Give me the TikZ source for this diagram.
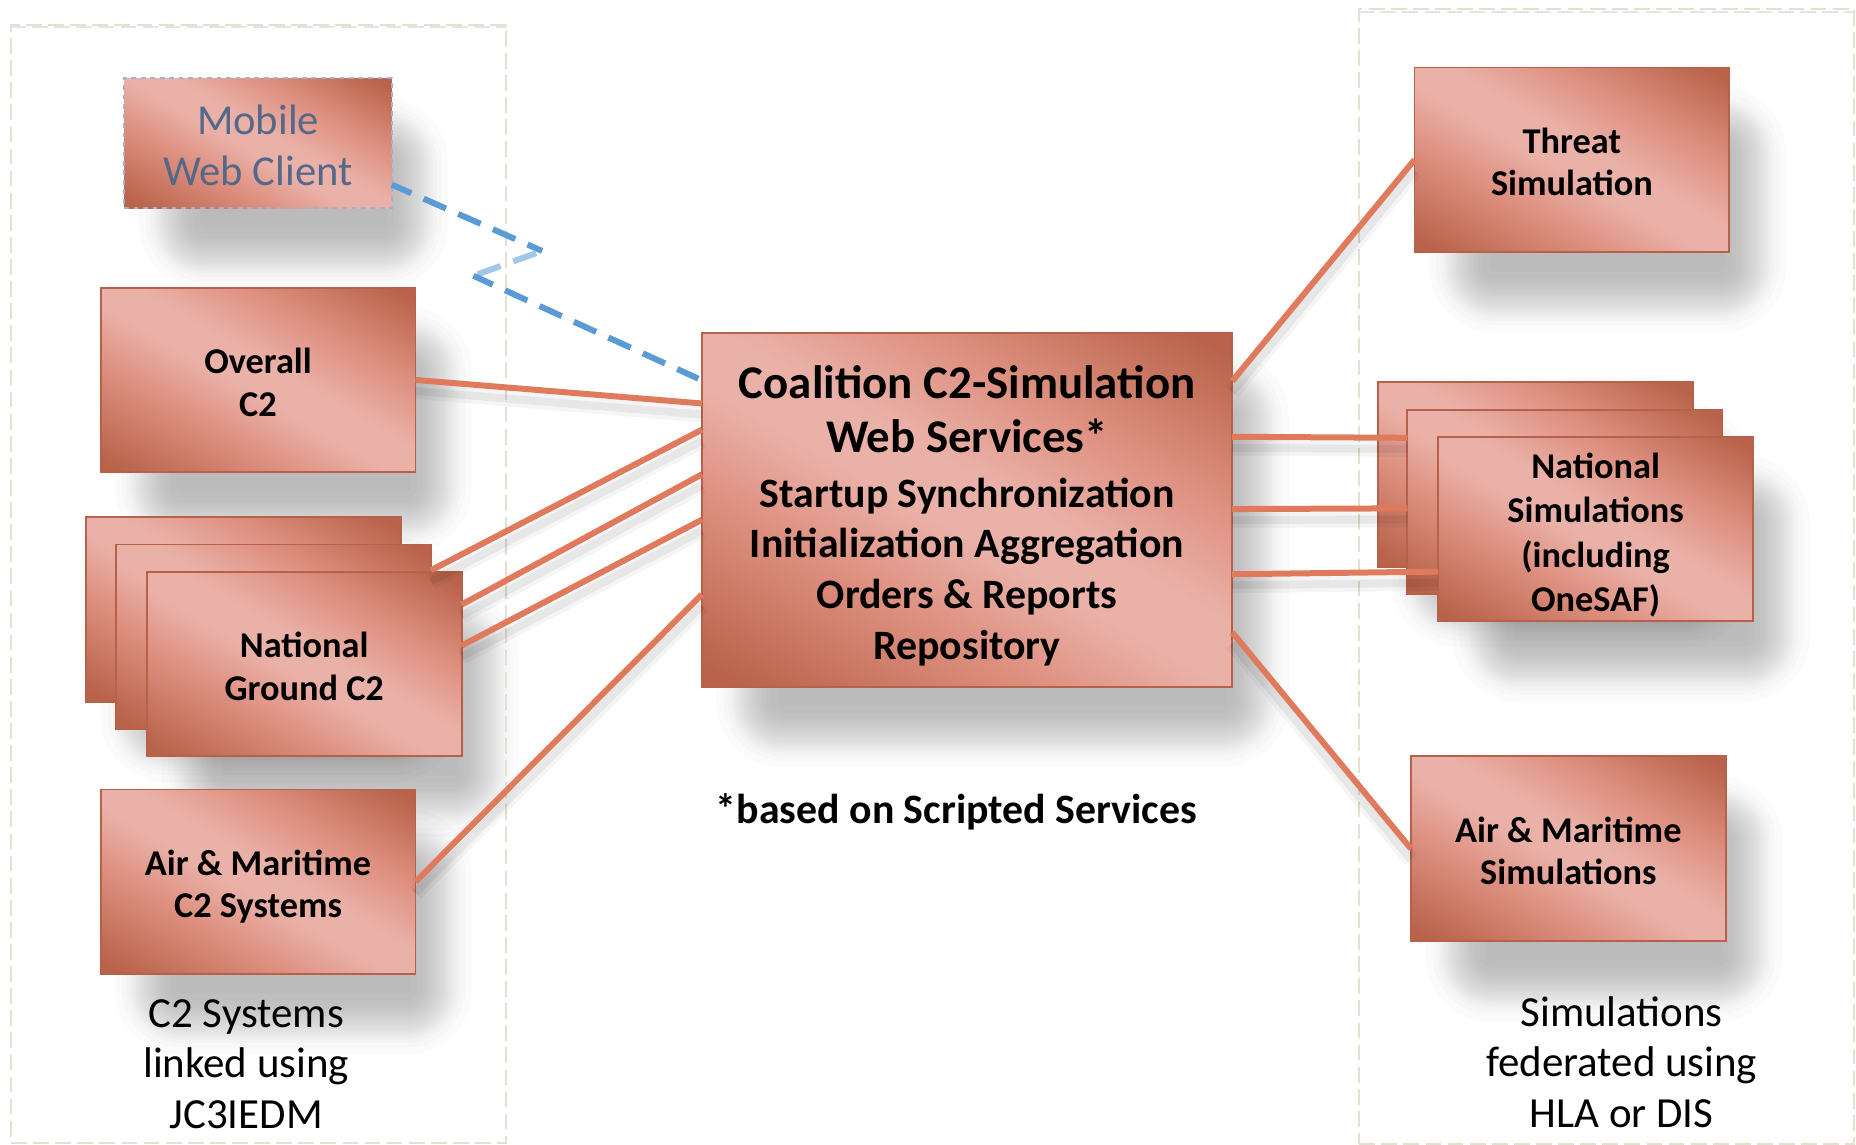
\documentclass[tikz,border=0pt]{standalone}
\usepackage{fontspec}
\setmainfont{Carlito}
\usetikzlibrary{calc,backgrounds}
\definecolor{edgebrown}{HTML}{B8614A}
\definecolor{gradDark}{HTML}{B8634A}
\definecolor{gradMid}{HTML}{DE9080}
\definecolor{gradLight}{HTML}{EAB1A8}
\definecolor{connOrange}{HTML}{DF7A5C}
\definecolor{dashBlue}{HTML}{5B9BD5}
\definecolor{dashPale}{HTML}{A3C6EC}
\definecolor{regionLine}{HTML}{E2E0CE}
\definecolor{regionShade}{HTML}{E4E4E4}
\definecolor{mobileEdge}{HTML}{A9AFC8}
\definecolor{mobileText}{HTML}{56688A}
\pgfdeclarehorizontalshading{boxgrad}{100bp}{
  color(0bp)=(gradDark); color(18bp)=(gradDark); color(36bp)=(gradMid);
  color(47bp)=(gradLight); color(54bp)=(gradLight); color(66bp)=(gradMid); color(82bp)=(gradDark); color(100bp)=(gradDark)}
\tikzset{
  anybox/.style={anchor=north west,inner sep=0pt,outer sep=0pt,shading=boxgrad,shading angle=60,
    align=center,text=black,font=\fontsize{23}{27}\selectfont\bfseries},
  stdbox/.style={anybox,draw=edgebrown,line width=1.2pt,minimum width=199.5pt,minimum height=117pt},
  mobilebox/.style={anybox,draw=mobileEdge,dashed,line width=1.1pt,minimum width=169.5pt,minimum height=82.5pt,
    text=mobileText,font=\fontsize{27}{32}\selectfont},
  centerbox/.style={anybox,draw=edgebrown,line width=1.2pt,minimum width=336pt,minimum height=224.5pt,
    font=\fontsize{26.5}{32.25}\selectfont\bfseries},
  conn/.style={draw=connOrange,line width=3.8pt,
    preaction={draw=black,opacity=.04,line width=10pt,transform canvas={yshift=-7pt}},
    preaction={draw=black,opacity=.06,line width=5pt,transform canvas={yshift=-7pt}}},
  dashlink/.style={draw=dashBlue,line width=3.8pt,dash pattern=on 15.5pt off 8.5pt,dash phase=2pt},
  dashpale/.style={draw=dashPale,line width=3.8pt,dash pattern=on 15.5pt off 8.5pt,dash phase=20pt},
  region/.style={anchor=north west,inner sep=0pt,draw=regionLine,line width=1.3pt,dash pattern=on 10pt off 4pt},
  regiontop/.style={draw=regionShade,line width=1.1pt,dash pattern=on 10pt off 4pt},
  caption/.style={align=center,text=black,font=\fontsize{27.2}{32}\selectfont},
  note/.style={text=black,font=\fontsize{26.5}{32}\selectfont\bfseries}
}
\newcommand{\softshadow}[1]{%
  \begin{pgfonlayer}{background}
  \foreach \r in {-26,-20,-16,-13,-11,-9,-7,-5,-3,-1,1,3,5,7,9,11,13,16,20,26}{
    \pgfmathsetmacro{\cr}{(\r+30)*0.75}
    \fill[black,opacity=.0155,rounded corners=\cr pt]
      ($(#1.north west)+(38-\r,42-\r)$) rectangle ($(#1.south east)+(22+\r,42+\r)$);
  }
  \end{pgfonlayer}}
\begin{document}
\begin{tikzpicture}[x=0.75pt,y=-0.75pt]
\useasboundingbox (0,0) rectangle (1568,966.5);
% regions
\node[region,minimum width=313.5pt,minimum height=708.5pt] (regL) at (8.5,20) {};
\node[region,minimum width=313.5pt,minimum height=719pt] (regR) at (1147.5,7) {};
\draw[regiontop] ($(regL.north west)+(0,3)$) -- ($(regL.north east)+(0,3)$);
\draw[regiontop] ($(regR.north west)+(0,3)$) -- ($(regR.north east)+(0,3)$);
% boxes
\node[mobilebox] (mobile) at (105,66) {\rule{0pt}{21.5pt}Mobile\\Web Client};
\node[stdbox] (overall) at (85,243) {\rule{0pt}{19pt}Overall\\C2};
\node[stdbox] (ngA) at (73,437) {};
\node[stdbox] (ngB) at (98,460) {};
\node[stdbox] (ngC) at (124,483) {\rule{0pt}{19pt}National\\Ground C2};
\node[stdbox] (airc) at (85,667) {\rule{0pt}{22pt}Air \& Maritime\\C2 Systems};
\node[centerbox] (hub) at (593,281) {\rule{0pt}{28.5pt}\fontsize{29.7}{35}\selectfont Coalition C2-Simulation\\[2.2pt]
  \fontsize{29.7}{35}\selectfont Web Services*\\[2.2pt]
  Startup Synchronization\\
  Initialization Aggregation\\
  Orders \& Reports\\
  Repository};
\node[stdbox] (threat) at (1195,57) {\rule{0pt}{19pt}Threat\\Simulation};
\node[stdbox] (nsA) at (1164,323) {};
\node[stdbox] (nsB) at (1189,346) {};
\node[stdbox,font=\fontsize{23}{28.2}\selectfont\bfseries] (nsC) at (1215,369) {\rule{0pt}{23.5pt}National\\Simulations\\(including\\OneSAF)};
\node[stdbox] (airs) at (1192,639) {\rule{0pt}{19pt}Air \& Maritime\\Simulations};
% shadows
\softshadow{mobile}\softshadow{overall}\softshadow{ngC}\softshadow{airc}
\softshadow{hub}\softshadow{threat}\softshadow{nsC}\softshadow{airs}
\softshadow{ngA}\softshadow{nsA}
% connectors
\draw[conn] (overall.east) -- ($(hub.north west)!.2!(hub.south west)$);
\draw[conn] ($(ngB.north east)!.14!(ngB.south east)$) -- ($(hub.north west)!.274!(hub.south west)$);
\draw[conn] ($(ngC.north east)!.178!(ngC.south east)$) -- ($(hub.north west)!.40!(hub.south west)$);
\draw[conn] ($(ngC.north east)!.40!(ngC.south east)$) -- ($(hub.north west)!.528!(hub.south west)$);
\draw[conn] (airc.east) -- ($(hub.north west)!.739!(hub.south west)$);
\draw[conn] ($(hub.north east)!.137!(hub.south east)$) -- (threat.west);
\draw[conn] ($(hub.north east)!.294!(hub.south east)$) -- ($(nsB.north west)!.153!(nsB.south west)$);
\draw[conn] ($(hub.north east)!.498!(hub.south east)$) -- ($(nsB.north west)!.535!(nsB.south west)$);
\draw[conn] ($(hub.north east)!.682!(hub.south east)$) -- ($(nsC.north west)!.73!(nsC.south west)$);
\draw[conn] ($(hub.north east)!.846!(hub.south east)$) -- (airs.west);
% dashed link
\coordinate (zigA) at (458,212);
\coordinate (zigB) at (400,233);
\draw[dashlink] ($(mobile.north east)!.818!(mobile.south east)$) -- (zigA);
\draw[dashpale] (zigA) -- (zigB);
\draw[dashlink] (zigB) -- ($(hub.north west)!.13!(hub.south west)+(-3,0)$);
% captions
\node[caption] (capL) at (208,899) {C2 Systems\\linked using\\JC3IEDM};
\node[caption] (capR) at (1370,897) {Simulations\\federated using\\HLA or DIS};
\node[note] (noteA) at (808,686) {*based on Scripted Services};
\end{tikzpicture}
\end{document}
